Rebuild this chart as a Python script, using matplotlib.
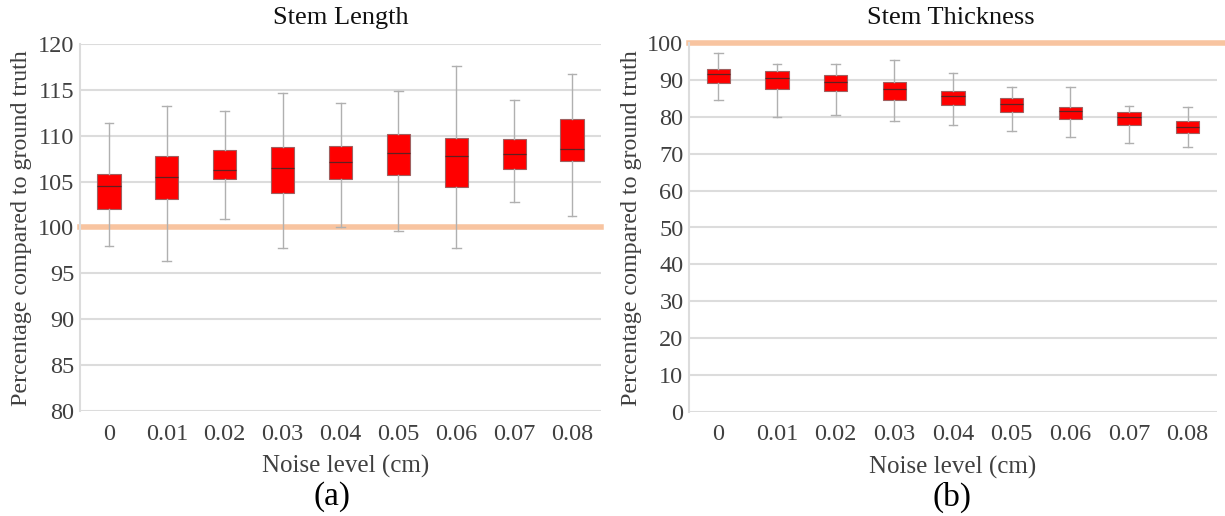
import matplotlib
matplotlib.use("Agg")
import matplotlib.pyplot as plt

plt.rcParams['font.family'] = ['Liberation Serif', 'DejaVu Serif']

categories = ["0", "0.01", "0.02", "0.03", "0.04", "0.05", "0.06", "0.07", "0.08"]

# Stem length (%)
len_whislo = [98.0, 96.3, 100.9, 97.8, 100.1, 99.6, 97.8, 102.8, 101.3]
len_q1     = [102.0, 103.1, 105.3, 103.8, 105.3, 105.7, 104.4, 106.4, 107.2]
len_med    = [104.5, 105.5, 106.3, 106.5, 107.1, 108.1, 107.8, 108.0, 108.6]
len_q3     = [105.8, 107.8, 108.5, 108.8, 108.9, 110.2, 109.8, 109.7, 111.8]
len_whishi = [111.4, 113.2, 112.7, 114.7, 113.6, 114.9, 117.6, 113.9, 116.7]

# Stem thickness (%)
thk_whislo = [84.6, 79.9, 80.5, 78.9, 77.8, 76.1, 74.6, 72.9, 71.9]
thk_q1     = [89.2, 87.4, 86.9, 84.6, 83.2, 81.3, 79.3, 77.9, 75.7]
thk_med    = [91.6, 90.5, 89.5, 87.4, 85.6, 83.5, 81.7, 80.0, 77.2]
thk_q3     = [93.0, 92.4, 91.2, 89.3, 87.0, 85.0, 82.7, 81.2, 78.9]
thk_whishi = [97.3, 94.2, 94.3, 95.4, 92.0, 88.1, 88.1, 82.9, 82.6]

reference = 100

W, H = 1225, 516
fig = plt.figure(figsize=(W / 100, H / 100), dpi=100)

def px_axes(x0, x1, ytop, ybot):
    return fig.add_axes([x0 / W, (H - ybot) / H, (x1 - x0) / W, (ybot - ytop) / H])

ax1 = px_axes(80, 601, 44, 411)
ax2 = px_axes(689, 1217, 43, 412)

TICK_COLOR = '#404040'
GRID_COLOR = '#dcdcdc'

def draw(ax, lo, q1, med, q3, hi, ylim, yticks, ref_xmax):
    stats = []
    for i in range(len(categories)):
        stats.append(dict(whislo=lo[i], q1=q1[i], med=med[i], q3=q3[i], whishi=hi[i],
                          fliers=[], label=categories[i]))
    ax.axhline(reference, xmax=ref_xmax, color='#f8c4a0', lw=4, zorder=1.5, clip_on=False)
    ax.bxp(stats, positions=range(len(categories)), widths=0.4, patch_artist=True,
           showfliers=False,
           boxprops=dict(facecolor='#ff0000', edgecolor='#a06060', lw=0.8),
           medianprops=dict(color='#602020', lw=0.9),
           whiskerprops=dict(color='#b0b0b0', lw=1.0),
           capprops=dict(color='#b0b0b0', lw=1.0),
           capwidths=0.15, zorder=3)
    ax.set_xlim(-0.5, len(categories) - 0.5)
    ax.set_ylim(*ylim)
    ax.set_yticks(yticks)
    ax.set_xticks(range(len(categories)))
    ax.set_xticklabels(categories)
    ax.yaxis.grid(True, color=GRID_COLOR, lw=1.5, zorder=0)
    ax.set_axisbelow(True)
    for s in ['top', 'right', 'bottom']:
        ax.spines[s].set_visible(False)
    ax.spines['left'].set_color(GRID_COLOR)
    ax.spines['left'].set_linewidth(1.5)
    ax.tick_params(axis='both', length=0, labelsize=17.5, colors=TICK_COLOR)
    ax.tick_params(axis='y', pad=4)
    ax.tick_params(axis='x', pad=9)

draw(ax1, len_whislo, len_q1, len_med, len_q3, len_whishi, (80, 120), range(80, 121, 5), 1.0)
draw(ax2, thk_whislo, thk_q1, thk_med, thk_q3, thk_whishi, (0, 100), range(0, 101, 10), 1.02)

def ftext(x, y, s, **kw):
    fig.text(x / W, 1 - y / H, s, ha='center', va='center', **kw)

ftext(341, 18, 'Stem Length', fontsize=19, color='#111111')
ftext(951, 18, 'Stem Thickness', fontsize=19, color='#111111')
ftext(22, 228, 'Percentage compared to ground truth', rotation=90, fontsize=17.3, color=TICK_COLOR)
ftext(632, 228, 'Percentage compared to ground truth', rotation=90, fontsize=17.3, color=TICK_COLOR)
ftext(346, 466, 'Noise level (cm)', fontsize=18, color=TICK_COLOR)
ftext(953, 467, 'Noise level (cm)', fontsize=18, color=TICK_COLOR)
ftext(332, 497, '(a)', fontsize=24, color='black')
ftext(952, 497, '(b)', fontsize=24, color='black')

fig.savefig('out.png', dpi=100)
